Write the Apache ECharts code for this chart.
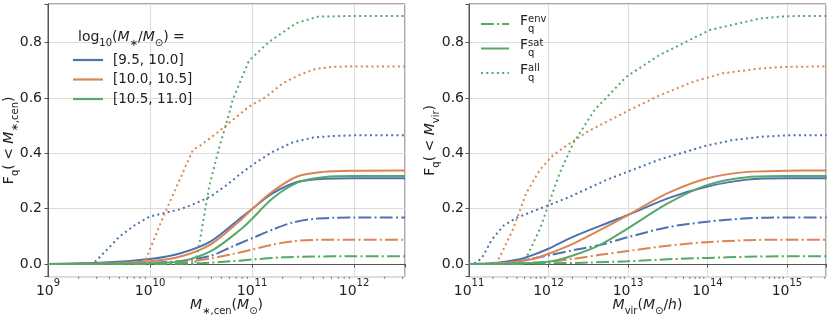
<!DOCTYPE html>
<html><head><meta charset="utf-8">
<script src="https://cdn.jsdelivr.net/npm/echarts@6/dist/echarts.min.js"></script>
<style>html,body{margin:0;padding:0;background:#fff}#c{width:830px;height:315px}</style>
</head><body><div id="c"></div>
<script>
// ---------- data (x = log10 mass, y = quenched fraction) ----------
const colors = ['#4C72B0', '#DD8452', '#55A868'];
const binLabels = ['[9.5, 10.0]', '[10.0, 10.5]', '[10.5, 11.0]'];
const rightLegendNames = ['Fenv', 'Fsat', 'Fall'];

// Left panel: M_*,cen
const cenSat0 = [[9.0,0],[9.5,0.004],[10.0,0.018],[10.3,0.039],[10.6,0.083],[10.9,0.17],[11.0,0.199],[11.2,0.255],[11.45,0.297],[11.7,0.308],[12.0,0.31],[12.5,0.31]];
const cenSat1 = [[9.0,0],[9.5,0.002],[10.0,0.01],[10.3,0.027],[10.6,0.072],[10.9,0.163],[11.0,0.198],[11.2,0.262],[11.45,0.317],[11.7,0.333],[12.0,0.337],[12.5,0.338]];
const cenSat2 = [[9.0,0],[9.5,0.001],[10.0,0.003],[10.3,0.009],[10.6,0.047],[10.9,0.128],[11.0,0.163],[11.2,0.237],[11.45,0.295],[11.7,0.314],[12.0,0.318],[12.5,0.318]];
const cenEnv0 = [[9.0,0],[9.5,0.001],[10.0,0.004],[10.3,0.011],[10.6,0.03],[10.8,0.062],[11.0,0.093],[11.2,0.124],[11.4,0.15],[11.6,0.163],[11.8,0.167],[12.0,0.168],[12.5,0.168]];
const cenEnv1 = [[9.0,0],[10.0,0.001],[10.3,0.005],[10.6,0.02],[10.8,0.035],[11.0,0.052],[11.2,0.07],[11.4,0.082],[11.6,0.087],[12.0,0.088],[12.5,0.088]];
const cenEnv2 = [[9.0,0],[10.0,0],[10.5,0.003],[10.8,0.01],[11.0,0.016],[11.3,0.024],[11.6,0.027],[12.0,0.028],[12.5,0.028]];
const cenAll0 = [[9.0,0],[9.44,0],[9.6,0.06],[9.7,0.099],[9.85,0.14],[10.0,0.172],[10.15,0.185],[10.3,0.198],[10.45,0.22],[10.6,0.245],[10.75,0.285],[10.9,0.33],[11.05,0.37],[11.2,0.405],[11.4,0.44],[11.6,0.457],[11.8,0.463],[12.0,0.465],[12.5,0.465]];
const cenAll1 = [[9.0,0],[9.94,0],[10.13,0.171],[10.29,0.304],[10.42,0.412],[10.5,0.43],[10.65,0.472],[10.81,0.52],[10.97,0.569],[11.14,0.605],[11.3,0.653],[11.46,0.683],[11.62,0.705],[11.79,0.713],[12.0,0.714],[12.5,0.714]];
const cenAll2 = [[9.0,0],[10.44,0],[10.49,0.087],[10.58,0.28],[10.68,0.424],[10.75,0.509],[10.81,0.593],[10.97,0.735],[11.17,0.804],[11.43,0.87],[11.64,0.894],[12.0,0.897],[12.5,0.897]];

// Right panel: M_vir
const virSat0 = [[11.0,0],[11.3,0.003],[11.6,0.015],[11.8,0.032],[12.0,0.055],[12.3,0.097],[12.65,0.138],[13.0,0.177],[13.5,0.237],[14.0,0.28],[14.5,0.305],[15.0,0.31],[15.5,0.31]];
const virSat1 = [[11.0,0],[11.3,0.002],[11.6,0.008],[11.8,0.018],[12.0,0.037],[12.3,0.072],[12.65,0.123],[13.0,0.177],[13.5,0.256],[14.0,0.31],[14.5,0.333],[15.0,0.337],[15.5,0.338]];
const virSat2 = [[11.0,0],[11.5,0.001],[12.0,0.008],[12.3,0.03],[12.65,0.069],[13.0,0.129],[13.5,0.219],[14.0,0.286],[14.5,0.314],[15.0,0.318],[15.5,0.318]];
const virEnv0 = [[11.0,0],[11.5,0.005],[12.0,0.031],[12.35,0.052],[12.65,0.069],[13.0,0.097],[13.5,0.133],[14.0,0.153],[14.5,0.165],[15.0,0.168],[15.5,0.168]];
const virEnv1 = [[11.0,0],[11.5,0.001],[12.0,0.008],[12.3,0.018],[12.65,0.033],[13.0,0.047],[13.5,0.066],[14.0,0.079],[14.5,0.086],[15.0,0.088],[15.5,0.088]];
const virEnv2 = [[11.0,0],[12.0,0.002],[12.5,0.005],[13.0,0.01],[13.5,0.017],[14.0,0.022],[14.5,0.026],[15.0,0.028],[15.5,0.028]];
const virAll0 = [[11.0,0],[11.1,0.005],[11.18,0.03],[11.28,0.085],[11.43,0.138],[11.6,0.167],[11.8,0.19],[11.98,0.21],[12.27,0.243],[12.73,0.304],[13.0,0.334],[13.4,0.378],[13.99,0.428],[14.3,0.447],[14.67,0.46],[15.0,0.465],[15.5,0.465]];
const virAll1 = [[11.0,0],[11.33,0],[11.39,0.027],[11.55,0.123],[11.72,0.256],[11.89,0.34],[12.06,0.394],[12.27,0.436],[12.5,0.48],[12.73,0.514],[12.98,0.551],[13.4,0.61],[13.82,0.659],[14.2,0.69],[14.67,0.707],[15.0,0.713],[15.5,0.714]];
const virAll2 = [[11.0,0],[11.68,0],[11.75,0.04],[11.89,0.125],[12.02,0.231],[12.14,0.328],[12.31,0.436],[12.58,0.557],[12.98,0.677],[13.4,0.756],[14.03,0.846],[14.67,0.888],[15.0,0.896],[15.5,0.897]];

// axis ranges
const leftXRange = [1e9, 3.16e12];
const rightXRange = [1e11, 3.1e15];
const yRange = [-0.046, 0.94];

// ---------- styling ----------
const TXT = '#222', SPINE = '#555', GRID = '#dcdcdc';
const FONT = 'DejaVu Sans';
const dashes = { env: [12.8, 3.2, 2, 3.2], sat: 'solid', all: [2, 3.3] };
// legend handle shapes (28 x 2 px): dash-dot, solid, dotted
const legendIcons = {
  Fenv: 'path://M0,0h12.8v2h-12.8zM16,0h2v2h-2zM21.2,0h6.8v2h-6.8z',
  Fsat: 'path://M0,0h28v2h-28z',
  Fall: 'path://M0,0h2v2h-2zM5.3,0h2v2h-2zM10.6,0h2v2h-2zM15.9,0h2v2h-2zM21.2,0h2v2h-2zM26.5,0h1.5v2h-1.5z'
};

const richMath = {
  f: { fontSize: 14, fontFamily: FONT, fontWeight: 'normal', color: TXT, lineHeight: 18, verticalAlign: 'top' },
  i: { fontSize: 14, fontFamily: FONT, fontWeight: 'normal', fontStyle: 'italic', color: TXT, lineHeight: 18, verticalAlign: 'top' },
  sub: { fontSize: 10, fontFamily: FONT, fontWeight: 'normal', color: TXT, lineHeight: 10, verticalAlign: 'bottom' }
};

function mk(name, pts, color, kind, gi) {
  return {
    type: 'line', name: name, xAxisIndex: gi, yAxisIndex: gi,
    data: pts.map(p => [Math.pow(10, p[0]), p[1]]),
    symbol: 'none', showSymbol: false, smooth: kind === 'all' ? false : 0.3,
    lineStyle: { color: color, width: 2, type: dashes[kind], cap: 'butt' },
    itemStyle: { color: color }, silent: true
  };
}

function minorTicks(range) {
  const out = [];
  for (let e = Math.floor(Math.log10(range[0])); e <= Math.ceil(Math.log10(range[1])); e++) {
    for (let k = 2; k <= 9; k++) {
      const v = k * Math.pow(10, e);
      if (v > range[0] && v < range[1]) out.push([v, yRange[0]]);
    }
  }
  return out;
}
function minorSeries(gi, range) {
  return {
    type: 'custom', xAxisIndex: gi, yAxisIndex: gi, silent: true, clip: false,
    data: minorTicks(range),
    renderItem: (params, api) => {
      const p = api.coord([api.value(0), api.value(1)]);
      return { type: 'line', shape: { x1: p[0], y1: p[1], x2: p[0], y2: p[1] + 2.2 },
               style: { stroke: SPINE, lineWidth: 0.8 } };
    }
  };
}

function xAxis(gi, range, nameStr, nameGap) {
  return {
    type: 'log', logBase: 10, gridIndex: gi, min: range[0], max: range[1],
    axisLine: { show: true, lineStyle: { color: SPINE, width: 1 } },
    axisTick: { show: true, length: 3.5, lineStyle: { color: SPINE } },
    minorTick: { show: false },
    splitLine: { show: true, lineStyle: { color: GRID, width: 1 } },
    axisLabel: {
      margin: 1.5,
      formatter: v => {
        const e = Math.log10(v);
        if (Math.abs(e - Math.round(e)) > 1e-6) return '';
        return '{b|10}{s|' + Math.round(e) + '}';
      },
      rich: {
        b: { fontSize: 14, fontFamily: FONT, color: TXT, lineHeight: 20, verticalAlign: 'bottom' },
        s: { fontSize: 10, fontFamily: FONT, color: TXT, lineHeight: 10, verticalAlign: 'top' }
      }
    },
    name: nameStr, nameLocation: 'middle', nameGap: nameGap, nameMoveOverlap: false,
    nameTextStyle: { rich: richMath }
  };
}
function yAxis(gi, nameStr, nameGap, margin) {
  return {
    type: 'value', gridIndex: gi, min: yRange[0], max: yRange[1], splitNumber: 5,
    axisLine: { show: true, lineStyle: { color: SPINE, width: 1 } },
    axisTick: { show: true, length: 3.5, lineStyle: { color: SPINE } },
    splitLine: { show: true, lineStyle: { color: GRID, width: 1 } },
    axisLabel: {
      margin: margin, fontSize: 14, fontFamily: FONT, color: TXT,
      formatter: v => (Math.abs(v / 0.2 - Math.round(v / 0.2)) < 1e-6 ? (Math.round(v / 0.2) * 0.2).toFixed(1) : '')
    },
    name: nameStr, nameLocation: 'middle', nameGap: nameGap, nameRotate: 90, nameMoveOverlap: false,
    nameTextStyle: { rich: richMath }
  };
}

const leftSets = [[cenEnv0, cenSat0, cenAll0], [cenEnv1, cenSat1, cenAll1], [cenEnv2, cenSat2, cenAll2]];
const rightSets = [[virEnv0, virSat0, virAll0], [virEnv1, virSat1, virAll1], [virEnv2, virSat2, virAll2]];
const kinds = ['env', 'sat', 'all'];

const series = [];
for (let b = 0; b < 3; b++) {
  for (let k = 0; k < 3; k++) {
    const nm = kinds[k] === 'sat' ? binLabels[b] : 'L_' + kinds[k] + '_' + b;
    series.push(mk(nm, leftSets[b][k], colors[b], kinds[k], 0));
  }
}
for (let b = 0; b < 3; b++) {
  for (let k = 0; k < 3; k++) {
    const nm = b === 2 ? rightLegendNames[k] : 'R_' + kinds[k] + '_' + b;
    series.push(mk(nm, rightSets[b][k], colors[b], kinds[k], 1));
  }
}
series.push(minorSeries(0, leftXRange));
series.push(minorSeries(1, rightXRange));

const supLabels = { Fenv: 'env', Fsat: 'sat', Fall: 'all' };

const option = {
  animation: false,
  backgroundColor: '#fff',
  title: {
    text: '{f|log}{sub|10}{f|(}{i|M}{sub|∗}{f|/}{i|M}{sub|⊙}{f|) =}',
    left: 78, top: 30, padding: 0,
    textStyle: { fontWeight: 'normal', rich: richMath }
  },
  grid: [
    { left: 48, top: 4, width: 357, height: 272.7, show: true, borderColor: SPINE, borderWidth: 1, outerBoundsMode: 'none', containLabel: false },
    { left: 469, top: 4, width: 357, height: 272.7, show: true, borderColor: SPINE, borderWidth: 1, outerBoundsMode: 'none', containLabel: false }
  ],
  xAxis: [
    xAxis(0, leftXRange, '{i|M}{sub|∗,cen}{f|(}{i|M}{sub|⊙}{f|)}', 22),
    xAxis(1, rightXRange, '{i|M}{sub|vir}{f|(}{i|M}{sub|⊙}{f|/}{i|h}{f|)}', 22)
  ],
  yAxis: [
    yAxis(0, '{f|F}{sub|q}{f|( < }{i|M}{sub|∗,cen}{f|)}', 27.5, 6),
    yAxis(1, '{f|F}{sub|q}{f|( < }{i|M}{sub|vir}{f|)}', 27.5, 5)
  ],
  legend: [
    {
      data: binLabels.map(n => ({ name: n, icon: 'rect' })), orient: 'vertical', left: 73, top: 53, padding: 0,
      itemWidth: 30, itemHeight: 2.2, itemGap: 5.5, selectedMode: false,
      formatter: n => '{a|' + n + '}',
      textStyle: { rich: { a: { fontSize: 13.5, fontFamily: FONT, color: TXT, lineHeight: 16, padding: [0, 0, 0, 5] } } }
    },
    {
      data: rightLegendNames.map(n => ({ name: n, icon: legendIcons[n] })), orient: 'vertical', left: 481, top: 14, padding: 0,
      itemWidth: 28, itemHeight: 2, itemGap: 4.5, selectedMode: false,
      formatter: n => '{F|F}{q|q}{e|' + supLabels[n] + '}',
      textStyle: { rich: {
        F: { fontSize: 14, fontFamily: FONT, color: TXT, lineHeight: 20, verticalAlign: 'top', padding: [0, 0, 0, 6] },
        q: { fontSize: 10, fontFamily: FONT, color: TXT, lineHeight: 10, verticalAlign: 'bottom', width: 0.001 },
        e: { fontSize: 10, fontFamily: FONT, color: TXT, lineHeight: 10, verticalAlign: 'top' }
      } }
    }
  ],
  series: series
};

const chart = echarts.init(document.getElementById('c'), null, { renderer: 'canvas' });
chart.setOption(option);
</script></body></html>
